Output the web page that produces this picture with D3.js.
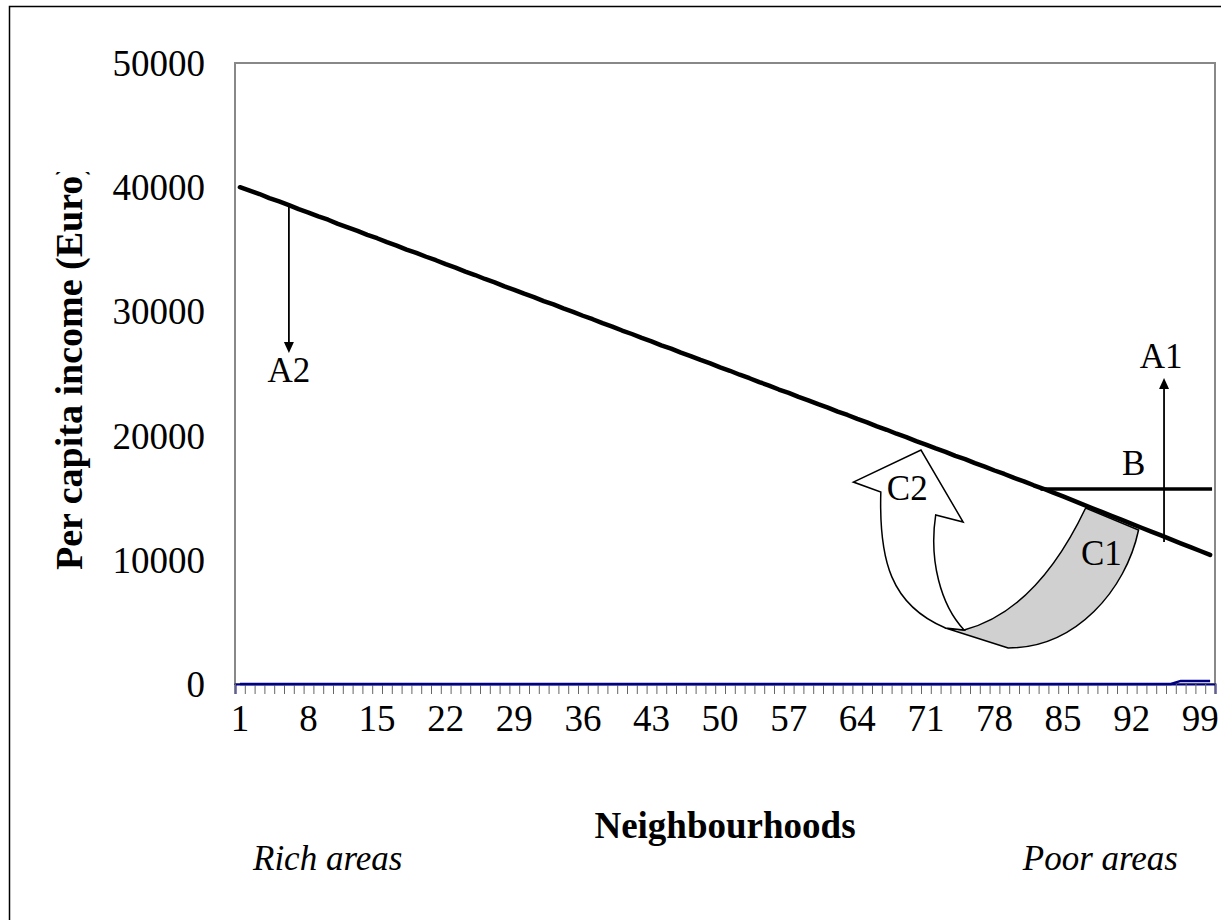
<!DOCTYPE html>
<html>
<head>
<meta charset="utf-8">
<script src="https://cdn.jsdelivr.net/npm/d3@7"></script>
<style>
  body { margin: 0; background: #fff; }
  svg { display: block; font-family: "Liberation Serif", "Times New Roman", serif; }
</style>
</head>
<body>
<div id="chart"></div>
<script>
// categories 1..100, one per neighbourhood
var neighbourhoods = d3.range(1, 101);

// per capita income, rich -> poor
var income = [40000,39720,39450,39120,38850,38560,38230,37960,37650,37380,
    37050,36770,36480,36160,35890,35580,35300,34980,34710,34400,
    34120,33800,33520,33210,32930,32610,32340,32020,31740,31430,
    31150,30830,30560,30240,29960,29650,29370,29050,28780,28460,
    28180,27870,27590,27270,27000,26680,26400,26090,25810,25490,
    25220,24900,24620,24310,24030,23710,23440,23120,22840,22530,
    22250,21930,21660,21340,21060,20750,20470,20150,19880,19560,
    19280,18970,18690,18370,18100,17780,17500,17190,16910,16590,
    16320,16000,15720,15410,15100,14780,14470,14150,13840,13520,
    13210,12900,12580,12270,11960,11640,11330,11020,10710,10400];

// second series (dark blue), flat at zero until the last few areas
var baseline = [0,0,0,0,0,0,0,0,0,0,
    0,0,0,0,0,0,0,0,0,0,
    0,0,0,0,0,0,0,0,0,0,
    0,0,0,0,0,0,0,0,0,0,
    0,0,0,0,0,0,0,0,0,0,
    0,0,0,0,0,0,0,0,0,0,
    0,0,0,0,0,0,0,0,0,0,
    0,0,0,0,0,0,0,0,0,0,
    0,0,0,0,0,0,0,0,0,0,
    0,0,0,0,0,0,250,250,250,250];

var yTicks = [0, 10000, 20000, 30000, 40000, 50000];
var xTickLabels = [1, 8, 15, 22, 29, 36, 43, 50, 57, 64, 71, 78, 85, 92, 99];

var width = 1221;
var height = 920;
var plot = {left: 235, right: 1215, top: 63, bottom: 684};

var svg = d3.select("#chart")
    .append("svg")
    .attr("width", width)
    .attr("height", height);

var x = d3.scaleLinear().domain([0.5, 100.5]).range([plot.left, plot.right]);
var y = d3.scaleLinear().domain([0, 50000]).range([plot.bottom, plot.top]);

// outer chart frame
svg.append("rect")
    .attr("x", 9.5).attr("y", 6.5)
    .attr("width", 1240).attr("height", 960)
    .attr("fill", "none")
    .attr("stroke", "#000")
    .attr("stroke-width", 1.5);

// plot area border
svg.append("rect")
    .attr("x", plot.left).attr("y", plot.top)
    .attr("width", plot.right - plot.left)
    .attr("height", plot.bottom - plot.top)
    .attr("fill", "none")
    .attr("stroke", "#888")
    .attr("stroke-width", 2);

// y tick labels
svg.selectAll(".ylab")
    .data(yTicks)
    .enter().append("text")
    .attr("class", "ylab")
    .attr("x", 205)
    .attr("y", d => y(d))
    .attr("dy", "0.35em")
    .attr("text-anchor", "end")
    .attr("font-size", 37)
    .text(d => d);

// x axis: ticks between categories
var xAxis = d3.axisBottom(x)
    .tickValues(d3.range(0.5, 101, 1))
    .tickSize(10)
    .tickFormat("");

var gx = svg.append("g")
    .attr("transform", "translate(0," + plot.bottom + ")")
    .call(xAxis);
gx.select(".domain").attr("stroke", "#000080").attr("stroke-width", 2);
gx.selectAll(".tick line").attr("stroke", "#666").attr("stroke-width", 1);

svg.selectAll(".xlab")
    .data(xTickLabels)
    .enter().append("text")
    .attr("class", "xlab")
    .attr("x", d => x(d))
    .attr("y", 731)
    .attr("text-anchor", "middle")
    .attr("font-size", 37)
    .text(d => d);

// series lines
var line = d3.line()
    .x((d, i) => x(neighbourhoods[i]))
    .y(d => y(d));

svg.append("path")
    .datum(baseline)
    .attr("d", line)
    .attr("fill", "none")
    .attr("stroke", "#000080")
    .attr("stroke-width", 2.5);

svg.append("path")
    .datum(income)
    .attr("d", line)
    .attr("fill", "none")
    .attr("stroke", "#000")
    .attr("stroke-width", 4.5)
    .attr("stroke-linejoin", "round")
    .attr("stroke-linecap", "round");

// axis titles (y title is cut off at the top, as in the original)
svg.append("defs").append("clipPath")
    .attr("id", "ytclip")
    .append("rect")
    .attr("x", 0).attr("y", 172)
    .attr("width", 200).attr("height", 600);

svg.append("g")
    .attr("clip-path", "url(#ytclip)")
    .append("text")
    .attr("transform", "translate(82,570) rotate(-90)")
    .attr("font-size", 38)
    .attr("font-weight", "bold")
    .text("Per capita income (Euro)");

svg.append("text")
    .attr("x", (plot.left + plot.right) / 2)
    .attr("y", 838)
    .attr("text-anchor", "middle")
    .attr("font-size", 37)
    .attr("font-weight", "bold")
    .text("Neighbourhoods");

svg.append("text")
    .attr("x", 253)
    .attr("y", 870)
    .attr("font-size", 35)
    .attr("font-style", "italic")
    .text("Rich areas");

svg.append("text")
    .attr("x", 1178)
    .attr("y", 870)
    .attr("text-anchor", "end")
    .attr("font-size", 35)
    .attr("font-style", "italic")
    .text("Poor areas");

// ---- annotations (in data units: [neighbourhood, euro]) ----
var ann = svg.append("g").attr("class", "annotations");

function arrow(cat, v0, v1) {
    var x0 = x(cat), y0 = y(v0), y1 = y(v1);
    var dir = y1 > y0 ? 1 : -1;
    ann.append("line")
        .attr("x1", x0).attr("y1", y0)
        .attr("x2", x0).attr("y2", y1 - dir * 8)
        .attr("stroke", "#000")
        .attr("stroke-width", 1.8);
    ann.append("path")
        .attr("d", "M" + x0 + "," + y1 +
            "L" + (x0 - 5) + "," + (y1 - dir * 11) +
            "L" + (x0 + 5) + "," + (y1 - dir * 11) + "Z")
        .attr("fill", "#000");
}

// A2: cut in the rich areas
arrow(6, income[5], 26650);
// A1: lift in the poor areas
arrow(95.3, 11430, 24640);

// B: threshold line
ann.append("line")
    .attr("x1", x(82.7)).attr("x2", x(100.2))
    .attr("y1", y(15700)).attr("y2", y(15700))
    .attr("stroke", "#000")
    .attr("stroke-width", 3.5);

// C1 / C2 curved arrow
function P(c, v) { return x(c) + "," + y(v); }

var band = "M" + P(74.9, 4350) +
    "Q" + P(82.3, 5880) + " " + P(87.3, 14170) +
    "L" + P(92.7, 12400) +
    "C" + P(91.4, 7570) + " " + P(86.3, 2900) + " " + P(79.4, 2900) +
    "L" + P(73.0, 4510) + "Z";

ann.append("path")
    .attr("d", band)
    .attr("fill", "#d0d0d0")
    .attr("stroke", "#000")
    .attr("stroke-width", 1.5)
    .attr("stroke-linejoin", "round");

var bigArrow = "M" + P(73.0, 4510) +
    "C" + P(67.4, 6360) + " " + P(66.2, 9980) + " " + P(66.4, 15460) +
    "L" + P(63.6, 16260) +
    "L" + P(70.5, 18840) +
    "L" + P(74.8, 13040) +
    "L" + P(72.0, 13610) +
    "C" + P(71.3, 9980) + " " + P(72.5, 6360) + " " + P(74.9, 4350) + "Z";

ann.append("path")
    .attr("d", bigArrow)
    .attr("fill", "#fff")
    .attr("stroke", "#000")
    .attr("stroke-width", 1.5)
    .attr("stroke-linejoin", "miter");

// annotation labels
var labels = [
    {t: "A2", c: 6, v: 24300},
    {t: "A1", c: 95.0, v: 25440},
    {t: "B", c: 92.2, v: 16830},
    {t: "C2", c: 69.1, v: 14810},
    {t: "C1", c: 88.9, v: 9580}
];
ann.selectAll(".annlab")
    .data(labels)
    .enter().append("text")
    .attr("class", "annlab")
    .attr("x", d => x(d.c))
    .attr("y", d => y(d.v))
    .attr("text-anchor", "middle")
    .attr("font-size", 35)
    .text(d => d.t);
</script>
</body>
</html>
